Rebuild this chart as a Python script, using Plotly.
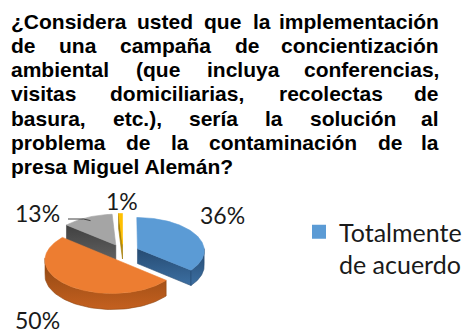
import numpy as np
import plotly.graph_objects as go

# ---- data -------------------------------------------------------------
categories = ["Totalmente de acuerdo", "De acuerdo", "En desacuerdo", "Totalmente en desacuerdo"]
values = [36, 50, 13, 1]
label_texts = ["36%", "50%", "13%", "1%"]

title_lines = [
    "¿Considera usted que la implementación",
    "de una campaña de concientización",
    "ambiental (que incluya conferencias,",
    "visitas domiciliarias, recolectas de",
    "basura, etc.), sería la solución al",
    "problema de la contaminación de la",
    "presa Miguel Alemán?",
]

# ---- style ------------------------------------------------------------
top_colors = ["#5B9BD5", "#ED7D31", "#A5A5A5", "#FFC000"]
wall_colors = [("#3C6FA2", "#264B72"), ("#C4601F", "#8E4612"),
               ("#606060", "#404040"), ("#CC9A00", "#9A7400")]
label_pos = [(222, 215), (37, 320), (37, 213), (122, 201)]

W, H = 463, 333
CX, CY = 123, 252          # centre of the pie's top surface
RX, RY = 67, 33            # ellipse radii of the tilted disc
DEPTH = 15                 # thickness of the disc
EXPLODE = 0.24             # radial pull of every slice
PERSP = 0.05               # front of the disc drawn slightly larger

TITLE_FONT = "Liberation Sans"
TITLE_SIZE = 21
LABEL_FONT = "Lato"

# Arial/Liberation Sans Bold advance widths (1/1000 em)
BOLD_W = {
    " ": 278, "¿": 611, "?": 611, "(": 333, ")": 333, ",": 278, ".": 278,
    "a": 556, "b": 611, "c": 556, "d": 611, "e": 556, "f": 333, "g": 611,
    "h": 611, "i": 278, "j": 278, "k": 556, "l": 278, "m": 889, "n": 611,
    "o": 611, "p": 611, "q": 611, "r": 389, "s": 556, "t": 333, "u": 611,
    "v": 556, "w": 778, "x": 556, "y": 556, "z": 500, "C": 722, "M": 833,
    "A": 722, "á": 556, "é": 556, "í": 278, "ó": 611, "ñ": 611,
}


def text_width(s, size):
    return sum(BOLD_W.get(ch, 556) for ch in s) * size / 1000.0


def project(u, v, z):
    s = 1.0 / (1.0 + PERSP * v)
    return CX + RX * u * s, CY - RY * v * s + z * s


def rim(theta, off, z, r=1.0):
    t = np.radians(theta)
    return project(r * np.sin(t) + off[0], r * np.cos(t) + off[1], z)


def poly_trace(pts, color, shade=None):
    xs = [p[0] for p in pts] + [pts[0][0]]
    ys = [p[1] for p in pts] + [pts[0][1]]
    kw = {}
    if shade is not None:
        kw["fillgradient"] = dict(type="vertical",
                                  colorscale=[[0, shade[0]], [1, shade[1]]])
    return go.Scatter(x=xs, y=ys, mode="lines", fill="toself", fillcolor=color,
                      line=dict(color=color, width=0.6), hoverinfo="skip",
                      showlegend=False, **kw)


fig = go.Figure()

# ---- exploded 3-D pie --------------------------------------------------
total = float(sum(values))
starts = np.cumsum([0] + values[:-1]) / total * 360.0
spans = np.array(values) / total * 360.0
mids = starts + spans / 2
order = sorted(range(len(values)), key=lambda i: -np.cos(np.radians(mids[i])))

for i in order:
    a0, a1 = starts[i], starts[i] + spans[i]
    m = np.radians(mids[i])
    off = (EXPLODE * np.sin(m), EXPLODE * np.cos(m))
    apex_top = project(off[0], off[1], 0)
    apex_bot = project(off[0], off[1], DEPTH)
    faces = []
    # flat cut faces
    if np.cos(np.radians(a0 - 90)) < 0:
        faces.append([apex_top, rim(a0, off, 0), rim(a0, off, DEPTH), apex_bot])
    if np.cos(np.radians(a1 + 90)) < 0:
        faces.append([apex_top, rim(a1, off, 0), rim(a1, off, DEPTH), apex_bot])
    # curved outer wall facing the viewer
    lo, hi = max(a0, 90.0), min(a1, 270.0)
    if hi > lo:
        arc = np.linspace(lo, hi, 60)
        wall = [rim(t, off, 0) for t in arc] + [rim(t, off, DEPTH) for t in arc[::-1]]
        faces.append(wall)
    for f in faces:
        fig.add_trace(poly_trace(f, wall_colors[i][1], wall_colors[i]))
    arc = np.linspace(a0, a1, max(int(spans[i]), 4))
    top = [apex_top] + [rim(t, off, 0) for t in arc]
    fig.add_trace(poly_trace(top, top_colors[i]))

# legend entry (only the first category fits in the frame)
fig.add_trace(go.Scatter(x=[None], y=[None], mode="markers",
                         marker=dict(symbol="square", size=14, color=top_colors[0]),
                         name="Totalmente<br>de acuerdo", showlegend=True))

# ---- data labels -------------------------------------------------------
for txt, (lx, ly) in zip(label_texts, label_pos):
    fig.add_annotation(x=lx, y=ly, text=txt, showarrow=False, xref="x", yref="y",
                       font=dict(family=LABEL_FONT, size=23, color="#1a1a1a"))

# leader line from the 13% label to its slice
gi = 2
gm = np.radians(mids[gi])
goff = (EXPLODE * np.sin(gm), EXPLODE * np.cos(gm))
ex, ey = rim(mids[gi], goff, 0, r=0.88)
sx, sy = label_pos[gi][0] + 31, label_pos[gi][1] + 6
fig.add_shape(type="path", xref="x", yref="y",
              path=f"M{sx},{sy} L{ex - 7},{sy} L{ex},{ey}",
              line=dict(color="#404040", width=1))

# ---- justified bold title ---------------------------------------------
LEFT, RIGHT = 10, 440
for k, line in enumerate(title_lines):
    yk = 21 + 24.3 * k
    words = line.split(" ")
    font = dict(family=TITLE_FONT, size=TITLE_SIZE, color="#000000")
    if k == len(title_lines) - 1:
        fig.add_annotation(x=LEFT, y=yk, text=f"<b>{line}</b>", showarrow=False,
                           xref="x", yref="y", xanchor="left", yanchor="middle",
                           font=font, borderpad=0)
        continue
    widths = [text_width(w, TITLE_SIZE) for w in words]
    gap = (RIGHT - LEFT - sum(widths)) / (len(words) - 1)
    x = LEFT
    for j, (w, wd) in enumerate(zip(words, widths)):
        last = j == len(words) - 1
        fig.add_annotation(x=RIGHT if last else x, y=yk, text=f"<b>{w}</b>",
                           showarrow=False, xref="x", yref="y",
                           xanchor="right" if last else "left", yanchor="middle",
                           font=font, borderpad=0)
        x += wd + gap

fig.update_layout(
    width=W, height=H,
    margin=dict(l=0, r=0, t=0, b=0, autoexpand=False),
    paper_bgcolor="white", plot_bgcolor="white",
    xaxis=dict(range=[0, W], visible=False, fixedrange=True),
    yaxis=dict(range=[H, 0], visible=False, fixedrange=True),
    showlegend=True,
    legend=dict(x=299 / W, y=1 - 209 / H, xanchor="left", yanchor="top",
                valign="top", itemwidth=30, bgcolor="rgba(0,0,0,0)",
                font=dict(family=LABEL_FONT, size=25, color="#1a1a1a")),
)

fig.write_html("out.html")
